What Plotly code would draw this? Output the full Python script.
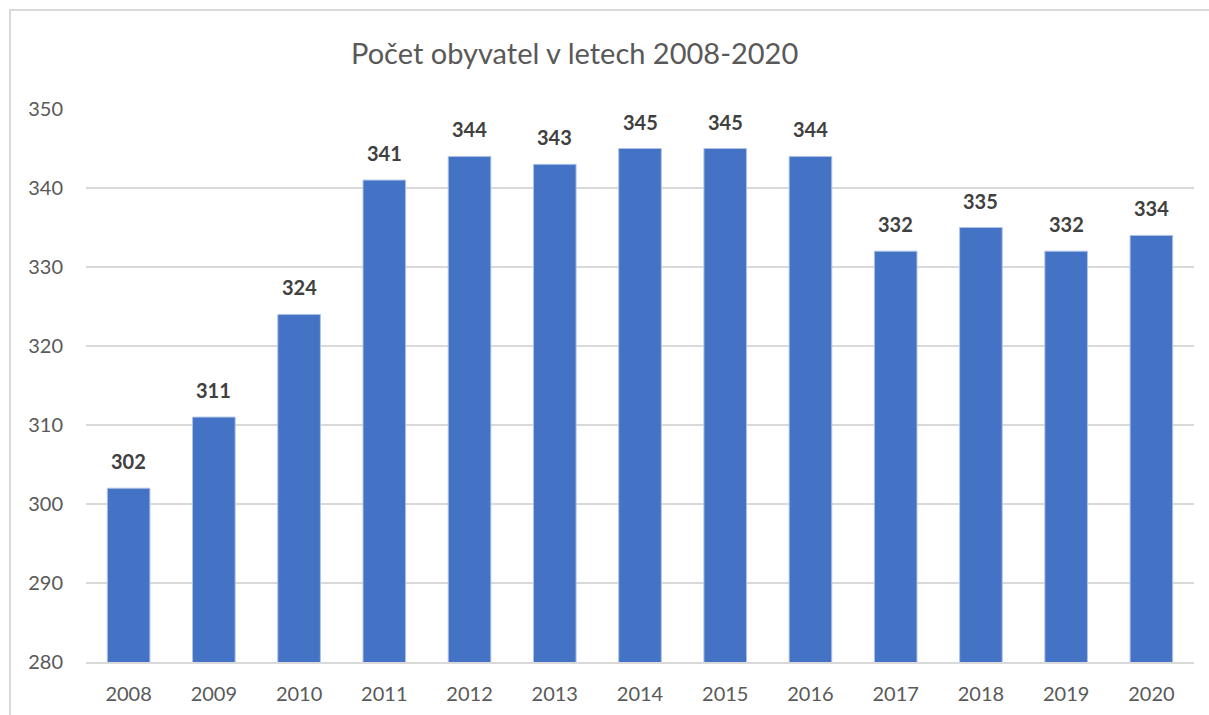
import plotly.graph_objects as go

years = ["2008", "2009", "2010", "2011", "2012", "2013", "2014",
         "2015", "2016", "2017", "2018", "2019", "2020"]
population = [302, 311, 324, 341, 344, 343, 345, 345, 344, 332, 335, 332, 334]
y_ticks = [280, 290, 300, 310, 320, 330, 340, 350]
title_text = "Počet obyvatel v letech 2008-2020"

FONT = "Lato"
fig = go.Figure()
fig.add_trace(go.Bar(
    x=years, y=population,
    marker=dict(color="#4472C4", line=dict(color="#AFC3E6", width=1)),
    hoverinfo="x+y",
))

for i, v in enumerate(population):
    fig.add_annotation(x=i, y=v, text="<b>%d</b>" % v, showarrow=False,
                       yanchor="bottom", yshift=13,
                       font=dict(family=FONT, size=20, color="#404040"))

fig.add_annotation(x=0.441, y=1.0, xref="paper", yref="paper",
                   text=title_text, showarrow=False,
                   xanchor="center", yanchor="middle", yshift=57,
                   font=dict(family=FONT, size=29, color="#595959"))

# chart frame
fig.add_shape(type="rect", xref="paper", yref="paper",
              x0=-0.0686, y0=-0.3, x1=1.2, y1=1.179,
              line=dict(color="#D9D9D9", width=2), layer="below")

fig.update_layout(
    width=1209, height=715,
    margin=dict(l=86, r=15, t=109, b=53, autoexpand=False),
    paper_bgcolor="white", plot_bgcolor="white",
    bargap=0.5, showlegend=False,
    font=dict(family=FONT, color="#595959"),
)
fig.update_xaxes(type="category", range=[-0.5, len(years) - 0.5],
                 showgrid=False, showline=True,
                 linecolor="#D9D9D9", linewidth=1.5, ticks="",
                 tickfont=dict(family=FONT, size=20, color="#595959"),
                 ticklabelstandoff=13)
fig.update_yaxes(range=[280, 350], tickvals=y_ticks, showgrid=True,
                 gridcolor="#D9D9D9", gridwidth=1.5, zeroline=False,
                 showline=False, ticks="",
                 tickfont=dict(family=FONT, size=20, color="#595959"),
                 ticklabelstandoff=22)

fig.write_html("out.html", config={"displayModeBar": False})

# remove the browser's default page margin so the figure sits at (0, 0)
with open("out.html", encoding="utf-8") as f:
    html = f.read()
html = html.replace("<head>", "<head><style>html,body{margin:0;padding:0;overflow:hidden;}</style>", 1)
with open("out.html", "w", encoding="utf-8") as f:
    f.write(html)
